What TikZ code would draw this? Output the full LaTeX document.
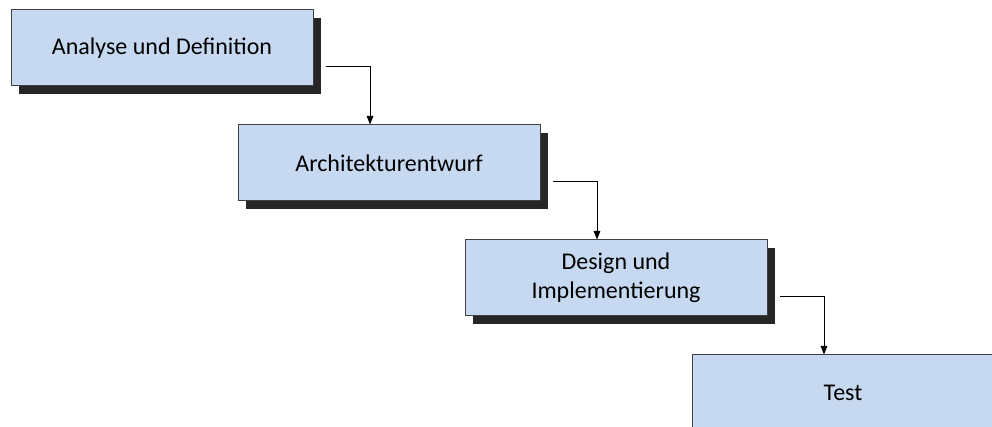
\documentclass[tikz,border=0pt]{standalone}
\usepackage{fontspec}
\setmainfont{Carlito}
\usepackage{tikz}
\usetikzlibrary{arrows.meta, positioning, shadows}

\begin{document}
\begin{tikzpicture}[
    x=0.75pt, y=-0.75pt,
    every node/.style={font=\fontsize{18}{21.5}\selectfont},
    phase/.style={
        draw=black!75, line width=0.75pt, fill=cPhase,
        minimum width=226.5pt, minimum height=57pt, align=center, inner sep=0pt,
        drop shadow={shadow xshift=6pt, shadow yshift=-6pt,
                     fill=cShadow, opacity=1}
    },
    flow/.style={draw=black, line width=0.75pt, -{Triangle[length=6.5pt, width=5pt]}},
    node distance=28.5pt
]
\definecolor{cPhase}{RGB}{198,217,240}
\definecolor{cShadow}{RGB}{38,38,38}

\useasboundingbox (0,0) rectangle (992,427);

% Phases
\node[phase] (analyse) at (162,48) {Analyse und Definition};
\node[phase, below=of analyse, xshift=170.25pt] (arch) {Architekturentwurf};
\node[phase, below=of arch, xshift=170.25pt] (design) {Design und\\Implementierung};
\node[phase, below=of design, xshift=170.25pt] (test) {Test};

% Edges
\draw[flow] ([xshift=9pt, yshift=-14.25pt]analyse.east) -| ([xshift=-14.25pt]arch.north);
\draw[flow] ([xshift=9pt, yshift=-14.25pt]arch.east) -| ([xshift=-14.25pt]design.north);
\draw[flow] ([xshift=9pt, yshift=-14.25pt]design.east) -| ([xshift=-14.25pt]test.north);

\end{tikzpicture}
\end{document}
